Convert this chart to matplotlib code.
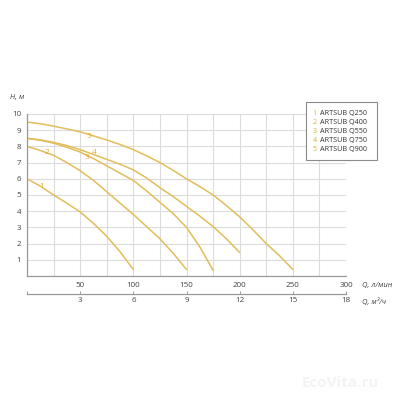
import matplotlib
matplotlib.use("Agg")
import matplotlib.pyplot as plt
from matplotlib.patches import Rectangle

# ==== Data ====
q1 = [0, 12.5, 25, 37.5, 50, 62.5, 75, 87.5, 100]
h1 = [6.0, 5.55, 5.0, 4.5, 3.95, 3.25, 2.45, 1.5, 0.4]

q2 = [0, 12.5, 25, 37.5, 50, 62.5, 75, 87.5, 100, 112.5, 125, 137.5, 150]
h2 = [8.0, 7.75, 7.45, 7.0, 6.5, 5.9, 5.2, 4.5, 3.8, 3.05, 2.3, 1.4, 0.4]

q3 = [0, 12.5, 25, 37.5, 50, 62.5, 75, 87.5, 100, 112.5, 125, 137.5, 150, 162.5, 175]
h3 = [8.5, 8.38, 8.2, 7.95, 7.65, 7.25, 6.8, 6.35, 5.9, 5.25, 4.55, 3.85, 3.0, 1.8, 0.35]

q4 = [0, 12.5, 25, 37.5, 50, 62.5, 75, 87.5, 100, 112.5, 125, 137.5, 150, 162.5, 175,
      187.5, 200]
h4 = [8.5, 8.4, 8.25, 8.05, 7.8, 7.5, 7.2, 6.9, 6.55, 6.05, 5.45, 4.9, 4.3, 3.7, 3.05,
      2.3, 1.45]

q5 = [0, 12.5, 25, 37.5, 50, 62.5, 75, 87.5, 100, 112.5, 125, 137.5, 150, 162.5, 175,
      187.5, 200, 212.5, 225, 237.5, 250]
h5 = [9.5, 9.4, 9.25, 9.08, 8.9, 8.65, 8.4, 8.12, 7.8, 7.42, 7.0, 6.52, 6.0, 5.52, 5.0,
      4.35, 3.65, 2.85, 2.0, 1.25, 0.4]

curves = [(q1, h1), (q2, h2), (q3, h3), (q4, h4), (q5, h5)]
names = ["ARTSUB Q250", "ARTSUB Q400", "ARTSUB Q550", "ARTSUB Q750", "ARTSUB Q900"]
# where the small number sits next to each curve (Q, H)
label_pos = [(14, 5.55), (19, 7.6), (56, 7.3), (63, 7.6), (58, 8.6)]

x_ticks = [50, 100, 150, 200, 250, 300]
y_ticks = [1, 2, 3, 4, 5, 6, 7, 8, 9, 10]
m3h_ticks = [0, 3, 6, 9, 12, 15, 18]

# ==== Style ====
curve_col = "#e2bd5a"
num_col = "#dcaa30"
text_col = "#444444"
grid_col = "#dcdcdc"
spine_col = "#9a9a9a"
plt.rcParams["font.family"] = ["Open Sans", "DejaVu Sans"]

fig = plt.figure(figsize=(4, 4), dpi=100)
ax = fig.add_axes([27 / 400, 1 - 276 / 400, 319 / 400, 162 / 400])

for (q, h) in curves:
    ax.plot(q, h, color=curve_col, lw=1.1, solid_capstyle="round", solid_joinstyle="round")

for i, (qx, hy) in enumerate(label_pos):
    ax.text(qx, hy, str(i + 1), color=num_col, fontsize=6, ha="center", va="center")

ax.set_xlim(0, 300)
ax.set_ylim(0, 10)
ax.set_xticks(range(0, 301, 25))
ax.set_xticklabels([str(v) if v in x_ticks else "" for v in range(0, 301, 25)])
ax.set_yticks(range(0, 11))
ax.set_yticklabels([str(v) if v in y_ticks else "" for v in range(0, 11)])
ax.grid(True, color=grid_col, lw=0.8)
ax.set_axisbelow(True)
ax.tick_params(length=0, labelsize=5.8, labelcolor=text_col, pad=4)
for s in ["top", "right"]:
    ax.spines[s].set_visible(False)
for s in ["left", "bottom"]:
    ax.spines[s].set_color(spine_col)
    ax.spines[s].set_linewidth(0.9)

# second scale in m3/h
sec = ax.secondary_xaxis("bottom", functions=(lambda q: q * 0.06, lambda m: m / 0.06))
sec.spines["bottom"].set_position(("outward", 13))
sec.spines["bottom"].set_color(spine_col)
sec.spines["bottom"].set_linewidth(0.9)
sec.set_xticks(m3h_ticks)
sec.set_xticklabels([str(v) if v else "" for v in m3h_ticks])
sec.tick_params(direction="in", length=2.5, width=0.7, color=spine_col,
                labelsize=5.8, labelcolor=text_col, pad=2)

# axis captions
fig.text(10 / 400, 1 - 97 / 400, "H, м", fontsize=5.5, style="italic",
         color=text_col, va="center")
fig.text(362 / 400, 1 - 285 / 400, "Q, л/мин", fontsize=5.5, style="italic",
         color=text_col, va="center")
fig.text(362 / 400, 1 - 302 / 400, "Q, м³/ч", fontsize=5.5, style="italic",
         color=text_col, va="center")

# legend box
fig.patches.append(Rectangle((306 / 400, 1 - 160 / 400), 71 / 400, 58 / 400,
                             transform=fig.transFigure, fill=True, fc="white",
                             ec="#8a8a8a", lw=0.8))
for i, name in enumerate(names):
    yy = 1 - (113.3 + 9 * i) / 400
    fig.text(314.5 / 400, yy, str(i + 1), color=num_col, fontsize=5, va="center", ha="center")
    fig.text(320.5 / 400, yy, name, color="#333333", fontsize=5.2, va="center")

# faint watermark
fig.text(340 / 400, 1 - 383 / 400, "EcoVita.ru", color="#f3f3f3", fontsize=11,
         fontweight="bold", ha="center", va="center")

fig.savefig("out.png", dpi=100)
